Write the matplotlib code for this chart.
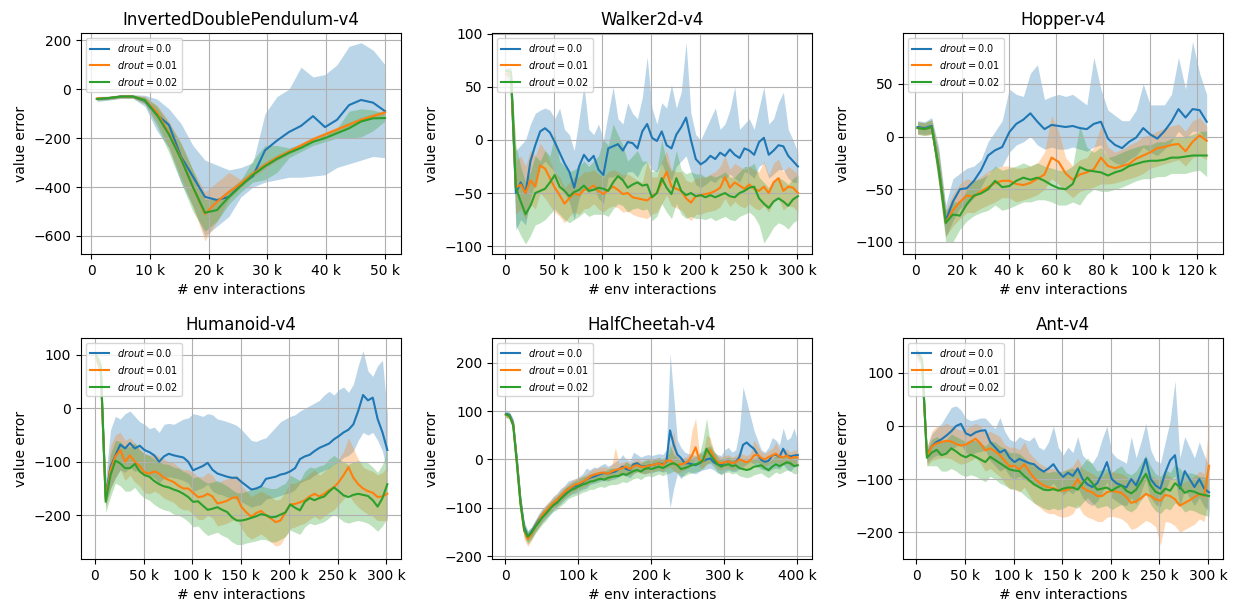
import numpy as np
import matplotlib
matplotlib.use("Agg")
import matplotlib.pyplot as plt
from matplotlib.ticker import EngFormatter

labels = [r"$drout = 0.0$", r"$drout = 0.01$", r"$drout = 0.02$"]
colors = ["tab:blue", "tab:orange", "tab:green"]

# InvertedDoublePendulum-v4
idp_x = np.linspace(1000, 50000, 25)
idp_m0 = [-40, -37, -30, -30, -48, -105, -146, -275, -357, -440, -453, -440, -390, -355, -250, -210, -175, -150, -110, -155, -125, -65, -44, -55, -90]
idp_hi0 = [-30, -28, -22, -22, -25, -40, -80, -140, -230, -290, -310, -330, -320, -300, -100, -30, 0, 90, 50, 60, 100, 175, 190, 160, 100]
idp_lo0 = [-50, -45, -38, -38, -70, -170, -240, -380, -480, -600, -560, -520, -440, -400, -380, -370, -360, -360, -355, -350, -320, -305, -290, -275, -280]
idp_m1 = [-38, -36, -30, -30, -45, -95, -180, -280, -400, -510, -460, -420, -385, -345, -310, -280, -255, -230, -205, -185, -165, -145, -125, -110, -95]
idp_hi1 = [-32, -30, -24, -24, -30, -65, -130, -220, -330, -420, -380, -340, -370, -330, -295, -268, -245, -220, -195, -175, -155, -135, -115, -100, -85]
idp_lo1 = [-45, -42, -36, -36, -60, -135, -240, -360, -480, -620, -540, -450, -400, -360, -325, -292, -265, -240, -215, -195, -175, -155, -135, -120, -105]
idp_m2 = [-40, -36, -30, -30, -45, -105, -185, -285, -400, -505, -494, -440, -395, -350, -315, -285, -260, -240, -215, -200, -180, -160, -132, -119, -118]
idp_hi2 = [-33, -30, -24, -24, -32, -70, -140, -220, -330, -450, -450, -410, -370, -290, -230, -230, -240, -225, -200, -185, -160, -90, -80, -85, -100]
idp_lo2 = [-46, -42, -36, -36, -60, -150, -260, -380, -500, -580, -540, -470, -420, -380, -370, -340, -280, -255, -230, -215, -200, -200, -195, -170, -130]

# Walker2d-v4
walker_x = np.arange(1, 302, 5) * 1000
walker_m0 = [62, 62, -50, -40, -50, -20, -5, 8, 11, 7, -2, -12, -22, -30, -45, -25, -14, -20, -15, -28,
             -33, -8, -6, -4, -10, -2, -3, -8, 8, 15, 2, -1, 8, -5, -8, 5, 12, 21, 0, -18,
             -23, -20, -15, -18, -12, -15, -9, -14, -17, -8, -10, -14, -2, 2, -14, -10, -5, -6, -15, -20, -25]
walker_hi0 = [68, 68, -10, -5, 0, 15, 25, 28, 30, 28, 20, 30, 10, 5, -10, 20, 52, 10, 5, 15,
              0, 25, 50, 20, 15, 35, 25, 20, 40, 78, 30, 15, 35, 30, 52, 30, 45, 92, 25, 5,
              0, 10, 20, 30, 10, 15, 28, 50, 10, 15, 20, 10, 30, 50, 15, 20, 35, 45, 10, 0, -12]
walker_lo0 = [56, 56, -85, -75, -80, -55, -40, -25, -20, -25, -30, -40, -50, -58, -75, -55, -45, -50, -45, -55,
              -60, -35, -35, -32, -38, -30, -30, -35, -25, -20, -28, -30, -22, -33, -38, -25, -20, -15, -30, -42,
              -45, -42, -38, -40, -35, -38, -32, -36, -40, -30, -32, -36, -25, -22, -36, -32, -28, -28, -36, -40, -40]
walker_m1 = [62, 62, -45, -42, -50, -38, -44, -24, -27, -36, -45, -52, -60, -55, -50, -52, -47, -46, -43, -48,
             -51, -47, -44, -47, -51, -50, -54, -55, -56, -57, -53, -50, -40, -30, -44, -46, -48, -55, -59, -53,
             -52, -51, -50, -48, -45, -35, -45, -40, -43, -46, -42, -46, -48, -44, -50, -40, -36, -48, -44, -45, -50]
walker_hi1 = [66, 66, -20, -15, -25, -10, -15, -3, -10, -20, -30, -35, -45, -40, -35, -35, -30, -30, -28, -32,
              -35, -30, -28, -30, -33, -32, -35, -38, -40, -20, -35, -35, -20, -10, -28, -30, -30, -38, -40, -36,
              -35, -35, -32, -30, -25, -15, -28, -22, -25, -28, -25, -28, -30, -20, -33, -22, -18, -30, -25, -28, -33]
walker_lo1 = [58, 58, -70, -65, -75, -60, -65, -50, -55, -62, -68, -72, -78, -72, -68, -70, -65, -64, -60, -65,
              -68, -64, -62, -64, -68, -67, -70, -72, -73, -74, -70, -68, -60, -52, -62, -64, -66, -72, -76, -70,
              -70, -68, -67, -66, -63, -55, -63, -58, -62, -64, -60, -64, -66, -62, -68, -58, -55, -66, -62, -63, -68]
walker_m2 = [65, 64, -45, -58, -70, -62, -50, -48, -46, -40, -33, -44, -48, -53, -49, -47, -43, -48, -47, -45,
             -46, -48, -40, -34, -38, -45, -42, -40, -43, -42, -54, -50, -36, -45, -51, -36, -48, -52, -50, -53,
             -52, -54, -52, -54, -52, -50, -53, -54, -50, -48, -45, -44, -55, -60, -64, -58, -55, -58, -62, -56, -53]
walker_hi2 = [68, 68, -5, -25, -40, -30, -15, -20, -10, -15, 5, -20, -25, -30, -28, -25, -20, -25, -20, -15,
              0, -5, 15, 5, -5, -20, -15, -10, -20, -20, -30, -28, 0, -20, -30, -10, -28, -32, -30, -32,
              -32, -35, -33, -35, -33, -30, -35, -35, -30, -25, -25, -22, -35, -40, -45, -38, -35, -38, -42, -36, -33]
walker_lo2 = [60, 60, -80, -90, -98, -90, -80, -78, -75, -70, -65, -70, -75, -78, -75, -72, -68, -72, -70, -70,
              -70, -72, -65, -60, -62, -68, -65, -64, -66, -65, -76, -72, -60, -68, -74, -60, -70, -74, -72, -74,
              -74, -75, -73, -76, -74, -72, -75, -76, -72, -70, -68, -72, -80, -97, -90, -82, -78, -80, -84, -78, -75]

# Hopper-v4
hopper_x = np.arange(1, 126, 3) * 1000
hopper_m0 = [9, 8, 10, -30, -80, -62, -50, -49, -42, -32, -18, -13, -10, 4, 12, 16, 22, 14, 7, 11,
             10, 9, 10, 8, 7, 12, 14, -2, -8, -11, -5, -1, 8, 2, -2, 5, 14, 26, 18, 26, 25, 14]
hopper_hi0 = [15, 14, 18, -10, -65, -40, -35, -30, -28, -22, -5, 5, 15, 45, 40, 38, 60, 68, 35, 38,
              40, 38, 40, 35, 30, 75, 45, 25, 20, 15, 15, 25, 50, 30, 30, 30, 40, 75, 45, 90, 60, 40]
hopper_lo0 = [3, 2, 3, -45, -95, -80, -68, -65, -58, -48, -35, -30, -28, -15, -8, -5, 0, -8, -12, -10,
              -12, -12, -10, -12, -14, -10, -8, -20, -25, -27, -22, -18, -10, -15, -18, -12, -5, 5, -2, 5, 5, -5]
hopper_m1 = [8, 7, 9, -30, -82, -70, -62, -56, -57, -52, -48, -44, -42, -42, -45, -46, -44, -40, -36, -20,
             -24, -35, -41, -36, -34, -31, -20, -28, -30, -28, -26, -21, -18, -15, -11, -10, -8, -7, -14, -5, 1, -4]
hopper_hi1 = [14, 13, 16, -15, -70, -55, -45, -40, -42, -38, -33, -30, -28, -28, -30, -30, -28, -25, -15, 20,
              5, -20, -28, -22, -20, -10, 10, -10, -15, -12, -8, -5, 0, 2, 5, 8, 10, 12, 5, 15, 18, 10]
hopper_lo1 = [2, 1, 2, -45, -95, -85, -78, -72, -72, -68, -65, -62, -58, -58, -62, -60, -58, -55, -50, -40,
              -45, -52, -58, -52, -50, -48, -45, -45, -44, -42, -40, -38, -35, -30, -28, -26, -24, -22, -28, -20, -18, -22]
hopper_m2 = [8, 7, 9, -30, -82, -74, -75, -64, -56, -54, -50, -42, -48, -47, -42, -39, -41, -39, -42, -46,
             -49, -50, -45, -29, -32, -33, -34, -37, -34, -32, -28, -26, -24, -23, -23, -22, -20, -20, -19, -18, -18, -18]
hopper_hi2 = [14, 13, 16, -15, -70, -62, -62, -50, -42, -40, -36, -28, -32, -30, -28, -25, -28, -25, -28, -30,
              -32, -32, -28, 10, -10, -15, -10, -20, -18, -15, -12, -10, -8, -8, -5, -5, -2, 0, 0, 2, 5, 5]
hopper_lo2 = [2, 1, 2, -45, -100, -100, -88, -80, -75, -72, -70, -65, -70, -68, -65, -62, -62, -60, -60, -62,
              -65, -65, -62, -65, -55, -50, -52, -52, -50, -48, -45, -42, -40, -40, -38, -38, -35, -35, -35, -33, -32, -38]

# Humanoid-v4
humanoid_x = np.arange(1, 302, 5) * 1000
humanoid_m0 = [95, 70, -165, -110, -88, -68, -75, -65, -75, -70, -78, -82, -88, -100, -90, -85, -88, -90, -92, -100,
               -116, -112, -108, -102, -115, -122, -125, -128, -130, -130, -138, -145, -152, -150, -146, -132, -130, -128, -124, -122,
               -118, -112, -95, -90, -87, -80, -74, -70, -66, -58, -52, -45, -40, -30, -5, 25, 15, 20, -20, -45, -78]
humanoid_hi0 = [100, 80, -130, -40, -15, -20, -10, -5, -15, -25, -30, -38, -35, -45, -30, -28, -30, -25, -20, -18,
                -10, -12, -15, -10, -12, -20, -22, -25, -28, -32, -40, -50, -60, -62, -58, -55, -45, -35, -25, -20,
                -15, -12, -5, 0, 5, 10, 15, 25, 32, 25, 35, 40, 30, 45, 80, 108, 70, 60, 80, 90, -10]
humanoid_lo0 = [88, 60, -180, -150, -130, -115, -120, -110, -118, -115, -122, -125, -130, -140, -130, -128, -130, -132, -135, -140,
                -155, -152, -148, -142, -155, -160, -162, -166, -168, -170, -175, -180, -185, -182, -180, -170, -168, -166, -163, -160,
                -158, -152, -140, -135, -132, -125, -120, -116, -112, -105, -100, -92, -88, -80, -60, -45, -50, -45, -60, -80, -120]
humanoid_m1 = [95, 70, -170, -115, -90, -78, -100, -88, -100, -108, -120, -122, -118, -122, -130, -134, -138, -145, -150, -150,
               -158, -166, -165, -160, -165, -178, -176, -173, -168, -166, -185, -195, -203, -196, -192, -200, -206, -213, -210, -195,
               -180, -179, -176, -172, -165, -160, -165, -160, -153, -148, -138, -125, -110, -130, -142, -150, -155, -158, -166, -165, -160]
humanoid_hi1 = [100, 80, -150, -70, -50, -45, -60, -55, -65, -75, -85, -88, -85, -90, -95, -100, -102, -110, -115, -115,
                -120, -128, -128, -120, -125, -140, -135, -132, -128, -125, -145, -155, -165, -160, -155, -160, -165, -172, -170, -155,
                -140, -140, -135, -130, -122, -115, -125, -118, -110, -105, -95, -80, -55, -75, -95, -110, -115, -118, -125, -120, -110]
humanoid_lo1 = [90, 60, -185, -150, -130, -115, -135, -125, -138, -145, -158, -160, -155, -160, -168, -172, -176, -185, -190, -190,
                -198, -208, -208, -200, -205, -220, -218, -215, -210, -208, -225, -238, -245, -240, -235, -242, -250, -258, -255, -240,
                -225, -222, -218, -215, -208, -202, -208, -202, -195, -190, -180, -170, -160, -175, -185, -192, -198, -202, -210, -210, -210]
humanoid_m2 = [100, 80, -175, -125, -98, -103, -112, -112, -104, -118, -125, -128, -136, -142, -146, -148, -152, -155, -160, -166,
               -175, -174, -182, -190, -188, -185, -190, -194, -204, -210, -210, -208, -205, -202, -198, -200, -204, -203, -199, -195,
               -180, -186, -191, -175, -168, -172, -168, -165, -156, -148, -155, -163, -166, -162, -160, -162, -164, -172, -184, -168, -142]
humanoid_hi2 = [105, 90, -150, -85, -60, -62, -72, -72, -65, -78, -85, -88, -95, -100, -104, -105, -110, -112, -118, -122,
                -130, -128, -135, -140, -138, -135, -140, -145, -152, -158, -158, -155, -152, -150, -145, -148, -150, -150, -145, -140,
                -125, -130, -135, -118, -110, -112, -108, -105, -95, -88, -95, -100, -105, -100, -98, -100, -102, -110, -120, -105, -80]
humanoid_lo2 = [95, 70, -195, -165, -140, -145, -155, -155, -148, -160, -168, -172, -180, -186, -190, -192, -198, -200, -205, -212,
                -222, -220, -230, -238, -235, -232, -238, -242, -250, -255, -255, -252, -250, -248, -245, -246, -250, -250, -245, -240,
                -228, -232, -236, -222, -215, -218, -215, -212, -205, -198, -205, -212, -215, -212, -210, -212, -215, -222, -230, -220, -205]

# HalfCheetah-v4
hc_x = np.arange(1, 402, 5) * 1000
hc_m0 = [94, 92, 75, 0, -85, -140, -160, -150, -138, -126, -117, -108, -100, -92, -85, -77, -70, -62, -58, -55,
         -52, -48, -42, -38, -36, -33, -30, -28, -30, -27, -25, -20, -15, -20, -22, -10, -8, -14, -15, -13,
         -12, -10, -8, -10, -5, 60, 30, 10, 3, -8, -8, -10, -12, -8, -4, 0, 2, -6, -10, -12,
         -6, -4, -8, -6, 5, 30, 35, 28, 22, 10, -1, -5, -3, 8, 10, 5, 22, 8, 6, 8, 9]
hc_hi0 = [100, 98, 85, 10, -70, -128, -148, -140, -126, -112, -102, -94, -86, -76, -70, -60, -55, -45, -42, -40,
          -36, -30, -18, -22, -16, -17, -12, -8, -14, -10, -5, 0, 10, 0, -2, 15, 10, 5, 8, 10,
          8, 10, 12, 10, 20, 220, 130, 40, 25, 15, 12, 10, 8, 12, 18, 25, 28, 15, 10, 8,
          20, 25, 15, 20, 60, 150, 120, 90, 60, 40, 20, 15, 25, 45, 40, 30, 65, 40, 45, 65, 35]
hc_lo0 = [88, 86, 65, -25, -110, -155, -170, -162, -150, -140, -130, -122, -114, -106, -98, -92, -84, -78, -72, -70,
          -66, -62, -60, -52, -50, -48, -45, -44, -45, -42, -40, -36, -32, -35, -38, -30, -25, -28, -30, -28,
          -28, -25, -24, -26, -25, -100, -60, -30, -40, -30, -25, -28, -30, -25, -22, -20, -18, -22, -28, -30,
          -25, -22, -25, -25, -20, -15, -10, -5, -10, -15, -20, -22, -25, -20, -18, -20, -10, -20, -25, -15, -15]
hc_m1 = [92, 90, 72, -5, -90, -148, -165, -155, -140, -128, -115, -106, -98, -90, -84, -76, -68, -62, -57, -52,
         -50, -46, -42, -36, -32, -30, -28, -27, -30, -25, -22, -20, -18, -15, -20, -14, -12, -15, -16, -13,
         -12, -10, -8, -12, -3, -2, -8, -12, -10, -8, -4, 8, 25, 0, -5, 15, 20, 5, -5, -8,
         -6, -4, -8, -6, 0, -3, -6, -2, 8, 10, 3, 0, 5, 8, 12, 6, 4, 8, 2, 5, 4]
hc_hi1 = [98, 96, 80, 5, -75, -135, -152, -142, -128, -115, -102, -94, -86, -78, -72, -64, -56, -50, -45, -40,
          -38, -34, -30, -24, -20, -18, -16, -15, -18, -12, 25, -8, -6, -3, -8, -2, 0, -3, -4, -1,
          0, 2, 4, 0, 10, 12, 60, 5, 2, 4, 8, 60, 85, 15, 8, 50, 45, 18, 8, 5,
          8, 10, 5, 8, 15, 10, 8, 12, 40, 28, 16, 12, 18, 22, 35, 20, 18, 22, 15, 20, 18]
hc_lo1 = [86, 84, 60, -30, -110, -165, -180, -168, -152, -140, -128, -118, -110, -102, -96, -88, -80, -74, -70, -65,
          -62, -58, -55, -50, -46, -44, -42, -40, -44, -38, -36, -34, -32, -30, -34, -28, -26, -28, -30, -27,
          -26, -24, -22, -26, -18, -16, -24, -28, -26, -22, -18, -10, 0, -15, -20, -10, -5, -10, -20, -22,
          -20, -18, -22, -20, -14, -18, -20, -16, -8, -5, -12, -15, -10, -8, -5, -10, -12, -8, -14, -10, -12]
hc_m2 = [93, 90, 70, -8, -92, -145, -160, -152, -140, -130, -120, -112, -103, -95, -90, -82, -75, -68, -63, -60,
         -56, -52, -50, -46, -45, -42, -40, -42, -38, -36, -35, -34, -30, -32, -28, -24, -22, -25, -20, -18,
         -20, -17, -15, -18, -14, -10, -8, -12, -20, -18, -15, -12, -10, -8, -2, 22, 10, 0, -10, -15,
         -12, -10, -14, -12, -18, -20, -22, -20, -15, -14, -12, -18, -22, -15, -10, -14, -10, -6, -8, -14, -12]
hc_hi2 = [99, 96, 78, 5, -78, -132, -148, -140, -128, -116, -106, -98, -90, -82, -76, -68, -60, -54, -48, -44,
          -40, -36, -34, -30, -28, -26, -24, -25, -20, -18, -18, -16, -12, -5, -10, -6, -4, -8, -2, 0,
          -3, 2, 4, 0, 5, 30, 10, 5, -3, -2, 0, 3, 5, 10, 40, 85, 35, 18, 5, 0,
          3, 5, 2, 4, -2, -3, -5, -3, 2, 4, 5, -2, -6, 2, 8, 3, 8, 12, 10, 4, 5]
hc_lo2 = [87, 84, 60, -22, -106, -160, -175, -166, -154, -144, -134, -126, -116, -108, -104, -96, -90, -82, -78, -75,
          -72, -68, -66, -62, -62, -58, -56, -58, -54, -52, -52, -50, -46, -48, -44, -40, -38, -42, -36, -34,
          -36, -33, -30, -34, -30, -28, -24, -28, -36, -34, -30, -28, -26, -24, -18, -10, -8, -15, -26, -32,
          -28, -26, -30, -28, -34, -36, -38, -36, -32, -30, -28, -34, -38, -32, -26, -30, -26, -22, -24, -30, -28]

# Ant-v4
ant_x = np.arange(1, 302, 5) * 1000
ant_m0 = [135, 120, -55, -38, -30, -25, -18, -10, 0, 4, -14, -18, -12, -9, -8, -30, -40, -50, -45, -60,
          -68, -62, -66, -70, -72, -80, -86, -80, -72, -86, -96, -88, -94, -80, -100, -110, -115, -108, -90, -68,
          -100, -108, -112, -116, -100, -112, -90, -62, -100, -112, -118, -88, -65, -55, -118, -85, -100, -115, -100, -118, -125]
ant_hi0 = [145, 130, -40, -15, -5, 5, 20, 35, 38, 30, 15, 10, 12, 15, 15, 5, -5, 16, -10, -25,
           -30, -20, -25, -28, -20, -40, -45, -30, 0, -40, -55, -40, -50, -20, -55, -65, -70, -55, -25, 0,
           -50, -60, -65, -70, -20, -60, -30, 5, -45, -65, -70, -30, 10, 85, -60, -20, -40, -60, -30, -55, -75]
ant_lo0 = [125, 110, -70, -60, -55, -55, -50, -45, -38, -35, -50, -55, -50, -48, -45, -65, -75, -85, -80, -95,
           -100, -95, -100, -105, -108, -115, -120, -115, -108, -120, -130, -122, -128, -115, -135, -145, -150, -142, -125, -105,
           -135, -142, -148, -150, -135, -148, -125, -100, -135, -148, -152, -122, -100, -95, -152, -120, -135, -150, -135, -152, -160]
ant_m1 = [135, 120, -58, -38, -33, -30, -28, -29, -34, -37, -35, -30, -24, -33, -46, -42, -48, -55, -66, -76,
          -75, -82, -72, -85, -98, -106, -112, -116, -117, -121, -122, -120, -115, -100, -116, -122, -125, -132, -132, -125,
          -122, -124, -126, -134, -145, -142, -136, -128, -132, -138, -141, -130, -132, -138, -150, -145, -140, -134, -128, -132, -75]
ant_hi1 = [142, 128, -40, -10, 0, 0, 5, 0, -5, -8, -5, 0, 5, 0, -15, -10, -15, -20, -35, -40,
           -40, -45, -30, -50, -60, -70, -75, -80, -80, -85, -85, -80, -75, -60, -80, -85, -90, -95, -95, -85,
           -85, -88, -90, -95, -105, -100, -95, -88, -92, -100, -100, -90, -95, -100, -110, -105, -100, -95, -85, -90, 10]
ant_lo1 = [128, 112, -75, -65, -62, -60, -60, -62, -68, -72, -70, -65, -60, -70, -85, -80, -88, -95, -108, -118,
           -118, -125, -115, -130, -145, -152, -160, -165, -165, -170, -172, -170, -165, -148, -165, -172, -175, -180, -180, -172,
           -170, -172, -175, -182, -195, -192, -185, -178, -182, -190, -225, -180, -182, -188, -200, -195, -190, -185, -175, -180, -135]
ant_m2 = [140, 125, -60, -50, -45, -55, -52, -42, -48, -55, -59, -54, -58, -63, -68, -58, -64, -70, -76, -82,
          -84, -85, -94, -102, -110, -115, -120, -121, -119, -122, -118, -116, -116, -120, -108, -97, -108, -120, -118, -116,
          -122, -116, -112, -122, -127, -120, -105, -90, -112, -124, -128, -118, -122, -108, -115, -126, -122, -124, -128, -130, -132]
ant_hi2 = [146, 132, -45, -25, -20, -28, -25, -15, -20, -25, -30, -25, -28, -32, -38, -28, -30, -38, -42, -50,
           -50, -52, -60, -68, -75, -80, -85, -88, -85, -88, -85, -82, -80, -85, -72, -60, -72, -85, -82, -80,
           -88, -80, -75, -88, -92, -85, -70, -55, -75, -90, -95, -82, -88, -72, -80, -92, -88, -90, -95, -96, -100]
ant_lo2 = [134, 118, -75, -75, -75, -85, -85, -80, -85, -92, -95, -92, -95, -100, -105, -95, -100, -108, -112, -118,
           -120, -122, -130, -138, -145, -150, -155, -158, -155, -158, -155, -150, -152, -155, -145, -135, -145, -155, -152, -150,
           -158, -152, -148, -158, -162, -155, -140, -128, -148, -160, -165, -155, -158, -145, -150, -162, -158, -160, -165, -168, -170]


def draw(ax, x, means, los, his, title, xlim, ylim):
    for m, lo, hi, c, lab in zip(means, los, his, colors, labels):
        ax.fill_between(x, lo, hi, color=c, alpha=0.3, linewidth=0)
        ax.plot(x, m, color=c, linewidth=1.5, label=lab)
    ax.set_title(title)
    ax.set_xlabel("# env interactions")
    ax.set_ylabel("value error")
    ax.xaxis.set_major_formatter(EngFormatter())
    ax.set_xlim(*xlim)
    ax.set_ylim(*ylim)
    ax.grid(True)
    ax.legend(loc="upper left", fontsize=7)


fig, axes = plt.subplots(2, 3, figsize=(12.33, 6.03), dpi=100)
draw(axes[0, 0], idp_x, [idp_m0, idp_m1, idp_m2], [idp_lo0, idp_lo1, idp_lo2], [idp_hi0, idp_hi1, idp_hi2],
     "InvertedDoublePendulum-v4", (-1700, 52700), (-674, 229))
draw(axes[0, 1], walker_x, [walker_m0, walker_m1, walker_m2], [walker_lo0, walker_lo1, walker_lo2],
     [walker_hi0, walker_hi1, walker_hi2], "Walker2d-v4", (-13400, 315500), (-107.5, 100.5))
draw(axes[0, 2], hopper_x, [hopper_m0, hopper_m1, hopper_m2], [hopper_lo0, hopper_lo1, hopper_lo2],
     [hopper_hi0, hopper_hi1, hopper_hi2], "Hopper-v4", (-5100, 131000), (-111.5, 98))
draw(axes[1, 0], humanoid_x, [humanoid_m0, humanoid_m1, humanoid_m2], [humanoid_lo0, humanoid_lo1, humanoid_lo2],
     [humanoid_hi0, humanoid_hi1, humanoid_hi2], "Humanoid-v4", (-14400, 315000), (-282, 131.6))
draw(axes[1, 1], hc_x, [hc_m0, hc_m1, hc_m2], [hc_lo0, hc_lo1, hc_lo2], [hc_hi0, hc_hi1, hc_hi2],
     "HalfCheetah-v4", (-17900, 420600), (-206, 251))
draw(axes[1, 2], ant_x, [ant_m0, ant_m1, ant_m2], [ant_lo0, ant_lo1, ant_lo2], [ant_hi0, ant_hi1, ant_hi2],
     "Ant-v4", (-13400, 315500), (-250.6, 165.7))

plt.subplots_adjust(left=0.0657, right=0.992, top=0.945, bottom=0.073, wspace=0.285, hspace=0.38)
plt.savefig("out.png")
